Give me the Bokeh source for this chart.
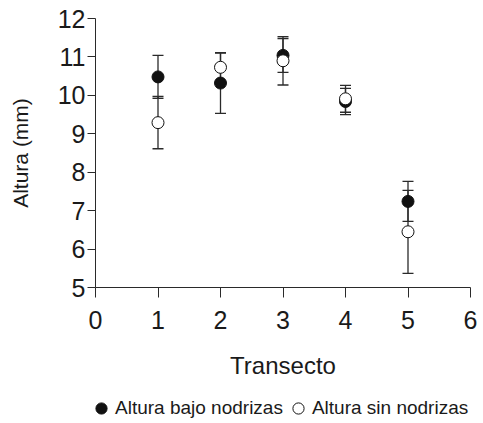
from bokeh.plotting import figure
from bokeh.layouts import column
from bokeh.models import Range1d, FixedTicker, Legend, LegendItem, ColumnDataSource
from bokeh.embed import file_html
from bokeh.resources import INLINE

# Data
transecto = [1, 2, 3, 4, 5]
bajo = [10.48, 10.32, 11.04, 9.84, 7.24]
bajo_err = [0.56, 0.79, 0.44, 0.34, 0.52]
sin = [9.29, 10.73, 10.90, 9.91, 6.45]
sin_err = [0.68, 0.37, 0.63, 0.35, 1.08]
x_ticks = [0, 1, 2, 3, 4, 5, 6]
y_ticks = [5, 6, 7, 8, 9, 10, 11, 12]
series_labels = ["Altura bajo nodrizas", "Altura sin nodrizas"]

TICK_FONT = "Liberation Sans"
TEXT_FONT = "Liberation Sans"
AX = "#2a2a2a"
INK = "#111111"

p = figure(width=483, height=386, output_backend="svg", toolbar_location=None,
           x_range=Range1d(0, 6), y_range=Range1d(5, 12),
           min_border_left=95, min_border_right=13, min_border_top=18, min_border_bottom=99)
p.xgrid.visible = False
p.ygrid.visible = False
p.outline_line_color = None
p.background_fill_color = "white"
p.border_fill_color = "white"

for ax in (p.xaxis[0], p.yaxis[0]):
    ax.axis_line_color = AX
    ax.major_tick_line_color = AX
    ax.minor_tick_line_color = None
    ax.major_tick_in = 0
    ax.major_label_text_font = TICK_FONT
    ax.major_label_text_font_size = "25px"
    ax.major_label_text_color = "#1a1a1a"
    ax.axis_label_text_font = TEXT_FONT
    ax.axis_label_text_font_style = "normal"
    ax.axis_label_text_color = "#1a1a1a"

p.xaxis.ticker = FixedTicker(ticks=x_ticks)
p.yaxis.ticker = FixedTicker(ticks=y_ticks)
p.xaxis.major_tick_out = 10
p.yaxis.major_tick_out = 8
p.xaxis.major_label_standoff = 13
p.yaxis.major_label_standoff = 2
p.xaxis.axis_label = "Transecto"
p.yaxis.axis_label = "Altura (mm)"
p.xaxis.axis_label_text_font_size = "24px"
p.yaxis.axis_label_text_font_size = "21px"
p.xaxis.axis_label_standoff = 20
p.yaxis.axis_label_standoff = 23

src_b = ColumnDataSource(dict(x=transecto, y=bajo,
                              lo=[v - e for v, e in zip(bajo, bajo_err)],
                              hi=[v + e for v, e in zip(bajo, bajo_err)]))
src_s = ColumnDataSource(dict(x=transecto, y=sin,
                              lo=[v - e for v, e in zip(sin, sin_err)],
                              hi=[v + e for v, e in zip(sin, sin_err)]))

for src in (src_b, src_s):
    p.segment(x0="x", y0="lo", x1="x", y1="hi", source=src, line_color=AX, line_width=1.3)
    p.scatter(x="x", y="lo", source=src, marker="dash", size=11, line_color=AX, line_width=1.3)
    p.scatter(x="x", y="hi", source=src, marker="dash", size=11, line_color=AX, line_width=1.3)

p.scatter(x="x", y="y", source=src_b, marker="circle", size=12,
          fill_color=INK, line_color=INK, line_width=1)
p.scatter(x="x", y="y", source=src_s, marker="circle", size=12,
          fill_color="white", line_color=INK, line_width=1)

# Legend strip below the chart (proxy glyphs lie outside its visible range)
lg = figure(width=483, height=37, output_backend="svg", toolbar_location=None,
            x_range=Range1d(100, 101), y_range=Range1d(100, 101),
            x_axis_location=None, y_axis_location=None, min_border=0)
lg.xgrid.visible = False
lg.ygrid.visible = False
lg.outline_line_color = None
lg.border_fill_color = "white"
lb = lg.scatter(x="x", y="y", source=src_b, marker="circle", size=12,
                fill_color=INK, line_color=INK, line_width=1)
ls = lg.scatter(x="x", y="y", source=src_s, marker="circle", size=12,
                fill_color="white", line_color=INK, line_width=1)
legend = Legend(items=[LegendItem(label=series_labels[0], renderers=[lb]),
                       LegendItem(label=series_labels[1], renderers=[ls])],
                orientation="horizontal", location=(-8, 1),
                glyph_width=28, glyph_height=28, label_standoff=0, spacing=1,
                padding=0, margin=0, border_line_color=None,
                background_fill_alpha=0,
                label_text_font=TEXT_FONT, label_text_font_size="19px",
                label_text_color="#1a1a1a")
lg.add_layout(legend, "center")

layout = column(p, lg, spacing=0)
open("out.html", "w").write(file_html(layout, INLINE))
